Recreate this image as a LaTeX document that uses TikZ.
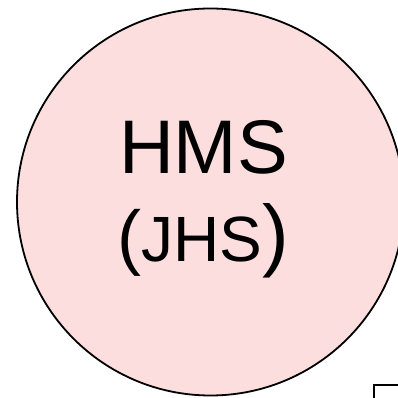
\documentclass[tikz,border=0pt]{standalone}
\usepackage{fontspec}
\setmainfont{Liberation Sans}
\newcommand{\fsz}[1]{\fontsize{#1}{#1}\selectfont}
\begin{document}
\begin{tikzpicture}[x=1pt,y=1pt,
  bubble/.style={circle, draw=black, line width=1.8pt, fill=bubblepink, inner sep=0pt, minimum size=387pt},
  bubbletext/.style={inner sep=0pt, anchor=base},
  boxframe/.style={draw=black, line width=2pt, fill=white, inner sep=0pt, minimum width=100pt, minimum height=100pt, anchor=north west}]
  \definecolor{bubblepink}{RGB}{252,222,222}
  \useasboundingbox (0,0) rectangle (397,398);
  % neighbouring box, mostly outside the frame
  \node[boxframe] (box) at (373,14) {};
  % the circle and its two-line label
  \node[bubble] (hms) at (210.5,196) {};
  \node[bubbletext, font=\fsz{76}] (hmsname) at (203.5,224) {HMS};
  \node[bubbletext] (hmsalt) at (203,136.5) {\fsz{72}(\fsz{64}JHS\fsz{80})};
\end{tikzpicture}
\end{document}
